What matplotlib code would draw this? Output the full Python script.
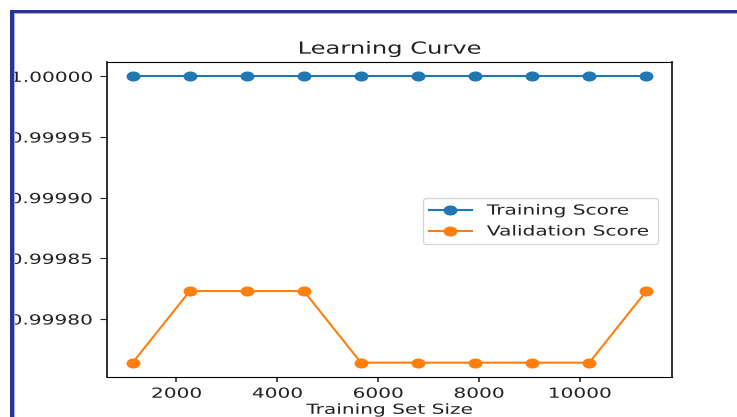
import matplotlib
matplotlib.use("Agg")
import matplotlib.pyplot as plt
from matplotlib.patheffects import AbstractPathEffect
from matplotlib.transforms import Affine2D
from matplotlib.path import Path
from matplotlib.patches import Rectangle

# Learning-curve results
train_sizes = [1132, 2264, 3396, 4528, 5660, 6792, 7924, 9056, 10188, 11320]
train_scores = [1.0, 1.0, 1.0, 1.0, 1.0, 1.0, 1.0, 1.0, 1.0, 1.0]
val_scores = [0.999764, 0.999823, 0.999823, 0.999823, 0.999764,
              0.999764, 0.999764, 0.999764, 0.999764, 0.999823]

xtick_vals = [2000, 4000, 6000, 8000, 10000]
ytick_vals = [0.99980, 0.99985, 0.99990, 0.99995, 1.00000]
ytick_labels = ["0.99980", "0.99985", "0.99990", "0.99995", "1.00000"]

SX = 1.45  # horizontal widening factor of the display


class Widen(AbstractPathEffect):
    """Draw text glyphs widened horizontally around a chosen anchor."""

    def __init__(self, sx=SX, anchor="center"):
        super().__init__()
        self.sx = sx
        self.anchor = anchor

    def draw_path(self, renderer, gc, tpath, affine, rgbFace=None):
        ext = tpath.get_extents()
        if self.anchor == "left":
            cx = ext.x0
        elif self.anchor == "right":
            cx = ext.x1
        else:
            cx = 0.5 * (ext.x0 + ext.x1)
        t = Affine2D().translate(-cx, 0).scale(self.sx, 1).translate(cx, 0) + affine
        renderer.draw_path(gc, tpath, t, rgbFace)


W, H = 737, 417
fig = plt.figure(figsize=(W / 100, H / 100), dpi=100)
fig.patch.set_facecolor("white")

ax = fig.add_axes([107 / W, 40 / H, 565 / W, 315 / H])

# Wide elliptical marker
ellipse = Affine2D().scale(SX, 1).transform_path(Path.unit_circle())

ax.plot(train_sizes, train_scores, marker=ellipse, markersize=9,
        color="#1f77b4", lw=1.5, label="Training Score")
ax.plot(train_sizes, val_scores, marker=ellipse, markersize=9,
        color="#ff7f0e", lw=1.5, label="Validation Score")

ax.set_xticks(xtick_vals)
ax.set_yticks(ytick_vals, labels=ytick_labels)

ax.tick_params(axis="y", length=5.0, width=0.8, pad=5.5, labelsize=10,
               colors="#222222")
ax.tick_params(axis="x", length=3.5, width=1.15, pad=3.5, labelsize=10,
               colors="#222222")

for side in ("left", "right"):
    ax.spines[side].set_linewidth(1.15)
for side in ("top", "bottom"):
    ax.spines[side].set_linewidth(0.8)

title = ax.set_title("Learning Curve", fontsize=12, color="#222222")
title.set_path_effects([Widen(anchor="center")])
xl = ax.set_xlabel("Training Set Size", fontsize=10, color="#222222",
                   labelpad=1.5)
xl.set_path_effects([Widen(anchor="center")])

for lbl in ax.get_xticklabels():
    lbl.set_path_effects([Widen(anchor="center")])
for lbl in ax.get_yticklabels():
    lbl.set_path_effects([Widen(anchor="right")])

leg = ax.legend(loc="upper left",
                bbox_to_anchor=(423 / W, (H - 242) / H, 235 / W, 44 / H),
                bbox_transform=fig.transFigure, mode="expand",
                borderaxespad=0, handlelength=3.1, handletextpad=1.1,
                fontsize=10)
for t in leg.get_texts():
    t.set_path_effects([Widen(anchor="left")])
    t.set_color("#222222")


def px_rect(x0, y0, x1, y1, color, z):
    """Rectangle given in pixel coordinates measured from the top-left."""
    r = Rectangle((x0 / W, 1 - y1 / H), (x1 - x0) / W, (y1 - y0) / H,
                  transform=fig.transFigure, facecolor=color,
                  edgecolor="none", zorder=z)
    fig.patches.append(r)


# White margin outside the window frame
px_rect(0, 0, 10, H, "white", 20)
px_rect(0, 0, W, 10, "white", 20)
# Window frame: dark blue edge with a light inner line
px_rect(14, 13.3, 15.3, H, "#a7aee6", 21)
px_rect(14, 13.3, W, 14.4, "#a7aee6", 21)
px_rect(10, 10, 14, H, "#2a3592", 22)
px_rect(10, 10, W, 13.3, "#2a3592", 22)

fig.savefig("out.png", dpi=100)
